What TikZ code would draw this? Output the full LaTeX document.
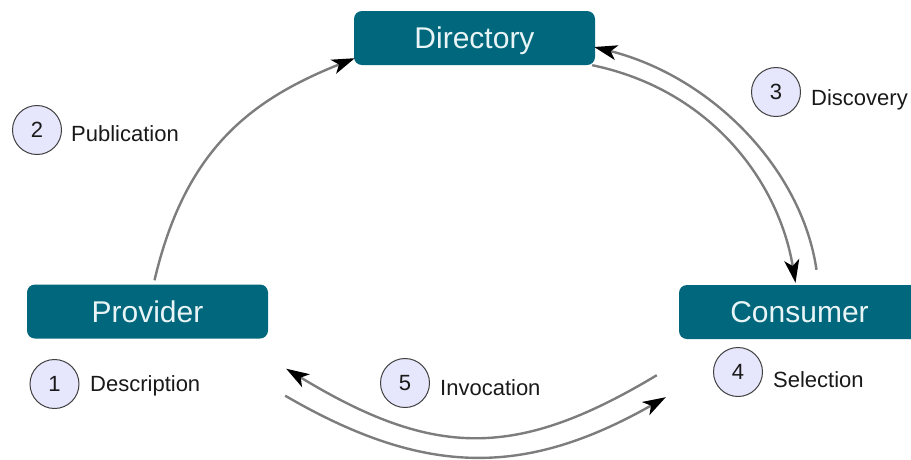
\documentclass[tikz,border=0pt]{standalone}
\usepackage{fontspec}
\setmainfont{Liberation Sans}
\usetikzlibrary{arrows.meta}
\definecolor{boxteal}{RGB}{0,103,124}
\definecolor{circfill}{RGB}{230,230,252}
\definecolor{linegray}{RGB}{125,125,125}
\definecolor{boxtext}{RGB}{232,244,246}
\begin{document}
\begin{tikzpicture}[x=1pt,y=-1pt,
  actor/.style={fill=boxteal, rounded corners=8pt, minimum width=241pt, minimum height=54pt,
    text=boxtext, font=\fontsize{30}{34}\selectfont, text height=21.5pt, text depth=0pt, inner sep=0pt},
  numcirc/.style={circle, draw=black!75, line width=1pt, fill=circfill, minimum size=49pt,
    inner sep=0pt, font=\fontsize{22}{26}\selectfont, text=black!90},
  lbl/.style={anchor=base west, inner sep=0pt, font=\fontsize{22}{26}\selectfont, text=black!90},
  flow/.style={draw=linegray, line width=2.4pt, -{Stealth[length=23pt,width=15pt,inset=6pt,black]}}]
\useasboundingbox (0,0) rectangle (911,459);
\clip (0,0) rectangle (911,459);

\node[actor] (dir) at (474.5,38) {Directory};
\node[actor] (prov) at (147.5,311.5) {Provider};
\node[actor] (cons) at (799.5,312) {Consumer};

\node[numcirc] (c1) at (54.5,384) {1};
\node[lbl] (t1) at (90,391) {Description};
\node[numcirc] (c2) at (37,130) {2};
\node[lbl] (t2) at (71,141) {Publication};
\node[numcirc] (c3) at (776,92) {3};
\node[lbl] (t3) at (811,105) {Discovery};
\node[numcirc] (c4) at (738,372) {4};
\node[lbl] (t4) at (773,387) {Selection};
\node[numcirc] (c5) at (405,383) {5};
\node[lbl] (t5) at (440,395) {Invocation};

% Publication
\draw[flow] ([xshift=7pt,yshift=4pt]prov.north) .. controls (185,150) and (250,100) .. ([xshift=1pt,yshift=7pt]dir.south west);
% Discovery
\draw[flow] ([xshift=17pt,yshift=15pt]cons.north) .. controls (802,170) and (713,77) .. ([xshift=-1pt,yshift=-9pt]dir.east);
\draw[flow] ([xshift=-3pt]dir.south east) .. controls (712,90) and (779,183) .. ([xshift=-4pt,yshift=2pt]cons.north);
% Invocation
\draw[flow] ([xshift=-22pt,yshift=-36pt]cons.south west) .. controls (517,459) and (435,459) .. ([xshift=18pt,yshift=-30pt]prov.south east);
\draw[flow] ([xshift=17pt,yshift=-57pt]prov.south east) .. controls (425,477) and (525,477) .. ([xshift=-13pt,yshift=-58pt]cons.south west);
\end{tikzpicture}
\end{document}
